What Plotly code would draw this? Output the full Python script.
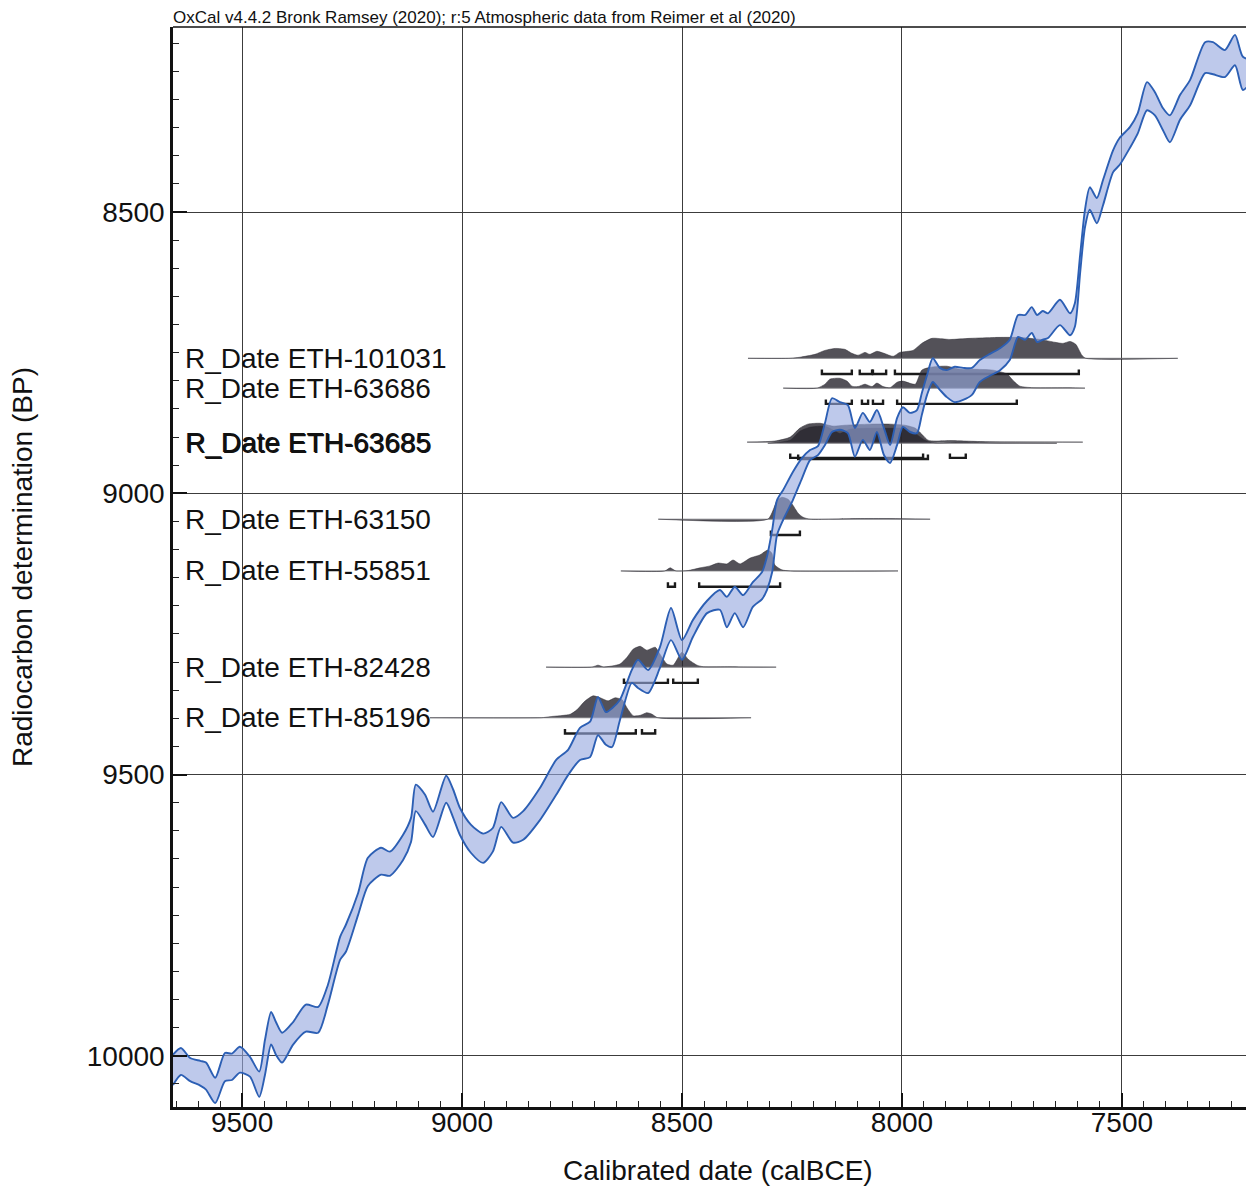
import plotly.graph_objects as go

# ---------------- calibration curve (IntCal20 band) ----------------
CURVE_CALBCE = [9657, 9639, 9618, 9595, 9582, 9561, 9539, 9523, 9505, 9482, 9461, 9448, 9434, 9423, 9409,
                9384, 9355, 9327, 9305, 9277, 9264, 9236, 9214, 9184, 9164, 9134, 9116, 9105, 9084, 9066,
                9036, 9020, 9005, 8980, 8952, 8930, 8911, 8884, 8861, 8823, 8786, 8759, 8732, 8709, 8691,
                8673, 8659, 8641, 8614, 8600, 8577, 8550, 8525, 8500, 8475, 8443, 8414, 8398, 8380, 8361,
                8339, 8318, 8307, 8295, 8284, 8270, 8248, 8227, 8209, 8191, 8175, 8159, 8141, 8123, 8107,
                8089, 8073, 8057, 8041, 8027, 8011, 7998, 7982, 7966, 7955, 7943, 7930, 7914, 7898, 7880,
                7861, 7841, 7823, 7800, 7777, 7755, 7736, 7720, 7705, 7693, 7680, 7668, 7641, 7618, 7607,
                7595, 7584, 7573, 7557, 7543, 7520, 7505, 7482, 7464, 7443, 7425, 7407, 7391, 7368, 7345,
                7311, 7293, 7266, 7243, 7225, 7200]
CURVE_BP_UPPER = [9998, 9986, 10004, 10009, 10012, 10039, 9995, 9996, 9984, 10002, 10028, 9972, 9922, 9940, 9959,
                  9940, 9909, 9913, 9874, 9788, 9767, 9710, 9648, 9630, 9637, 9607, 9577, 9518, 9536, 9566,
                  9502, 9527, 9559, 9589, 9605, 9595, 9549, 9577, 9565, 9524, 9474, 9456, 9417, 9406, 9362,
                  9389, 9382, 9367, 9314, 9296, 9314, 9273, 9204, 9261, 9225, 9191, 9172, 9184, 9166, 9181,
                  9158, 9140, 9113, 9065, 9012, 8994, 8962, 8937, 8923, 8916, 8875, 8831, 8838, 8843, 8884,
                  8857, 8873, 8852, 8884, 8914, 8866, 8847, 8857, 8852, 8822, 8790, 8760, 8777, 8781, 8775,
                  8777, 8777, 8763, 8752, 8742, 8727, 8683, 8683, 8669, 8683, 8676, 8680, 8656, 8680, 8662,
                  8576, 8496, 8456, 8475, 8443, 8390, 8368, 8349, 8324, 8269, 8287, 8315, 8328, 8292, 8265,
                  8198, 8198, 8212, 8185, 8224, 8230]
CURVE_BP_LOWER = [10052, 10034, 10045, 10053, 10060, 10084, 10045, 10043, 10030, 10037, 10073, 10034, 9980, 9998, 10012,
                  9980, 9957, 9959, 9909, 9829, 9815, 9749, 9698, 9678, 9680, 9652, 9620, 9565, 9589, 9611,
                  9550, 9577, 9607, 9639, 9657, 9637, 9593, 9621, 9616, 9581, 9536, 9501, 9474, 9469, 9430,
                  9447, 9451, 9403, 9337, 9346, 9355, 9310, 9261, 9296, 9255, 9213, 9207, 9238, 9213, 9238,
                  9202, 9188, 9172, 9140, 9074, 9047, 9012, 8973, 8941, 8932, 8914, 8891, 8887, 8893, 8935,
                  8905, 8923, 8891, 8932, 8946, 8914, 8882, 8891, 8893, 8861, 8825, 8802, 8816, 8829, 8838,
                  8834, 8825, 8802, 8791, 8781, 8763, 8722, 8727, 8715, 8731, 8727, 8724, 8701, 8719, 8704,
                  8608, 8527, 8496, 8520, 8488, 8429, 8416, 8386, 8360, 8319, 8328, 8354, 8376, 8336, 8310,
                  8253, 8255, 8260, 8239, 8283, 8262]

# ---------------- dates ----------------
DATE_LABELS = ["R_Date ETH-101031", "R_Date ETH-63686", "R_Date ETH-63685", "R_Date ETH-63685",
               "R_Date ETH-63150", "R_Date ETH-55851", "R_Date ETH-82428", "R_Date ETH-85196"]
DATE_BP = [8760, 8813, 8909, 8911, 9046, 9138, 9309, 9399]

# calibrated probability distributions (relative density, max = 1)
D101031_CAL = [8350, 8254, 8232, 8198, 8175, 8152, 8130, 8114, 8100, 8084, 8073, 8057, 8041, 8020, 8005,
               7975, 7955, 7932, 7891, 7845, 7789, 7732, 7686, 7652, 7634, 7618, 7605, 7591, 7582, 7373]
D101031_P = [0, 0, 0.05, 0.18, 0.36, 0.45, 0.41, 0.23, 0.14, 0.27, 0.18, 0.32, 0.23, 0.09, 0.27,
             0.36, 0.68, 0.91, 0.86, 0.91, 0.95, 0.95, 0.86, 0.73, 0.68, 0.77, 0.64, 0.14, 0, 0]
D63686_CAL = [8270, 8193, 8175, 8164, 8141, 8125, 8114, 8100, 8084, 8068, 8057, 8043, 8027, 8011, 7998,
              7970, 7955, 7936, 7898, 7868, 7839, 7793, 7761, 7748, 7732, 7702, 7618, 7584]
D63686_P = [0, 0, 0.18, 0.41, 0.45, 0.32, 0.09, 0.07, 0.18, 0.07, 0.23, 0.07, 0.02, 0.27, 0.32,
            0.18, 0.82, 0.95, 1.0, 0.86, 0.86, 0.82, 0.64, 0.36, 0.09, 0.02, 0.02, 0]
D63685A_CAL = [8352, 8289, 8254, 8232, 8214, 8186, 8157, 8130, 8073, 8027, 7993, 7970, 7955, 7941, 7925,
               7891, 7857, 7811, 7589]
D63685A_P = [0, 0.05, 0.23, 0.64, 0.82, 0.86, 0.73, 0.77, 0.82, 0.82, 0.77, 0.64, 0.36, 0.09, 0.05,
             0.07, 0.05, 0.02, 0]
D63685B_CAL = [8305, 8254, 8232, 8209, 8175, 8152, 8141, 8118, 8073, 8027, 7993, 7970, 7948, 7925, 7868,
               7777, 7648]
D63685B_P = [0, 0.14, 0.55, 0.73, 0.77, 0.55, 0.45, 0.64, 0.68, 0.68, 0.68, 0.45, 0.14, 0.02, 0.05,
             0.01, 0]
D63150_CAL = [8554, 8305, 8293, 8284, 8273, 8259, 8248, 8236, 8225, 8209, 8102, 8027, 7936]
D63150_P = [0, 0, 0.41, 0.86, 1.0, 0.91, 0.64, 0.27, 0.09, 0, 0.03, 0.03, 0]
D55851_CAL = [8639, 8539, 8527, 8514, 8486, 8459, 8436, 8418, 8398, 8384, 8368, 8345, 8323, 8305, 8296,
              8289, 8273, 8254, 8009]
D55851_P = [0, 0, 0.14, 0, 0.02, 0.14, 0.23, 0.36, 0.32, 0.5, 0.32, 0.59, 0.73, 0.95, 0.82,
            0.27, 0.05, 0, 0]
D82428_CAL = [8809, 8705, 8691, 8678, 8641, 8625, 8611, 8595, 8580, 8561, 8550, 8534, 8520, 8500, 8486,
              8466, 8452, 8391, 8361, 8286]
D82428_P = [0, 0, 0.09, 0.01, 0.14, 0.45, 0.82, 0.95, 0.77, 0.91, 0.59, 0.14, 0.09, 0.68, 0.36,
            0.09, 0.02, 0.02, 0.01, 0]
D85196_CAL = [9073, 8820, 8800, 8754, 8739, 8720, 8702, 8686, 8668, 8652, 8636, 8625, 8611, 8595, 8580,
              8568, 8555, 8343]
D85196_P = [0, 0, 0.05, 0.16, 0.36, 0.77, 1.0, 0.91, 0.77, 0.91, 0.82, 0.45, 0.09, 0.11, 0.23,
            0.16, 0, 0]

# 95.4% calibrated ranges (calBCE from, to)
R101031 = [(8182, 8114), (8096, 8068), (8066, 8036), (8016, 7598)]
R63686 = [(8173, 8114), (8091, 8077), (8066, 8043), (8011, 7739)]
R63685A = [(8254, 7952), (7891, 7855)]
R63685B = [(8236, 7941)]
R63150 = [(8298, 8232)]
R55851 = [(8532, 8516), (8461, 8277)]
R82428 = [(8632, 8532), (8520, 8464)]
R85196 = [(8766, 8605), (8591, 8561)]

DISTS = [(D101031_CAL, D101031_P, R101031), (D63686_CAL, D63686_P, R63686),
         (D63685A_CAL, D63685A_P, R63685A), (D63685B_CAL, D63685B_P, R63685B),
         (D63150_CAL, D63150_P, R63150), (D55851_CAL, D55851_P, R55851),
         (D82428_CAL, D82428_P, R82428), (D85196_CAL, D85196_P, R85196)]

# ---------------- styling constants ----------------
FONT = "Liberation Sans, Arial, Helvetica, sans-serif"
DIST_H = 39        # peak height of a distribution, BP units
BRACKET_OFF = 28   # bracket line below baseline, BP units
BRACKET_TICK = 8
DIST_FILL = "rgba(40,38,46,0.8)"
BAND_FILL = "rgba(150,168,222,0.62)"
CURVE_LINE = "#2c5fb4"

fig = go.Figure()

# distributions
for (cal, p, ranges), bp in zip(DISTS, DATE_BP):
    fig.add_trace(go.Scatter(x=[cal[0], cal[-1]], y=[bp, bp], mode="lines",
                             line=dict(color="rgba(120,120,125,0.85)", width=1),
                             hoverinfo="skip", showlegend=False))
    fig.add_trace(go.Scatter(x=cal, y=[bp - v * DIST_H for v in p], mode="lines",
                             line=dict(color=DIST_FILL, width=0.6, shape="spline", smoothing=0.6),
                             fill="tonexty", fillcolor=DIST_FILL,
                             hoverinfo="skip", showlegend=False))
    bx, byy = [], []
    y0 = bp + BRACKET_OFF
    for a, b in ranges:
        bx += [a, a, b, b, None]
        byy += [y0 - BRACKET_TICK, y0, y0, y0 - BRACKET_TICK, None]
    fig.add_trace(go.Scatter(x=bx, y=byy, mode="lines",
                             line=dict(color="#1a1a1a", width=2.4),
                             hoverinfo="skip", showlegend=False))

# calibration band
fig.add_trace(go.Scatter(x=CURVE_CALBCE + CURVE_CALBCE[::-1],
                         y=CURVE_BP_UPPER + CURVE_BP_LOWER[::-1],
                         mode="lines", fill="toself", fillcolor=BAND_FILL,
                         line=dict(width=0, shape="spline", smoothing=0.7),
                         hoverinfo="skip", showlegend=False))
for arr in (CURVE_BP_UPPER, CURVE_BP_LOWER):
    fig.add_trace(go.Scatter(x=CURVE_CALBCE, y=arr, mode="lines",
                             line=dict(color=CURVE_LINE, width=1.9, shape="spline", smoothing=0.7),
                             hoverinfo="skip", showlegend=False))

# labels
annotations = []
for i, (lab, bp) in enumerate(zip(DATE_LABELS, DATE_BP)):
    dx = 1 if (i > 0 and DATE_LABELS[i - 1] == lab) else 0
    annotations.append(dict(text=lab, x=0.009 + dx / 1073, xref="paper", y=bp, yref="y",
                            xanchor="left", yanchor="middle", showarrow=False,
                            font=dict(family=FONT, size=28, color="#111")))

annotations.append(dict(text="OxCal v4.4.2 Bronk Ramsey (2020); r:5 Atmospheric data from Reimer et al (2020)",
                        x=-0.002, xref="paper", y=1.0085, yref="paper", xanchor="left", yanchor="middle",
                        showarrow=False, font=dict(family=FONT, size=17, color="#111")))
annotations.append(dict(text="Calibrated date (calBCE)", x=0.5076, xref="paper", y=-0.0585, yref="paper",
                        xanchor="center", yanchor="middle", showarrow=False,
                        font=dict(family=FONT, size=28, color="#111")))
annotations.append(dict(text="Radiocarbon determination (BP)", x=-0.1407, xref="paper", y=0.5, yref="paper",
                        xanchor="center", yanchor="middle", showarrow=False, textangle=-90,
                        font=dict(family=FONT, size=28, color="#111")))

axis_common = dict(
    showgrid=True, gridcolor="#3c3c3c", gridwidth=1.2, zeroline=False,
    ticks="inside", ticklen=14, tickwidth=2, tickcolor="#111",
    showline=True, linecolor="#111", linewidth=2.5,
    tick0=0, dtick=500, tickformat="d",
    tickfont=dict(family=FONT, size=28, color="#111"),
    minor=dict(ticks="inside", dtick=50, tick0=0, ticklen=6, tickwidth=1.4,
               tickcolor="#222", showgrid=False),
)

# page body has an 8px margin: the figure is sized/offset so the plot lands where the reference has it
fig.update_layout(
    width=1238, height=1179,
    margin=dict(l=165, r=0, t=19, b=80, pad=0),
    paper_bgcolor="white", plot_bgcolor="white",
    showlegend=False,
    xaxis=dict(range=[9657, 7218], ticklabelstandoff=-11, **axis_common),
    yaxis=dict(range=[10091, 8171], ticklabelstandoff=0, **axis_common),
    annotations=annotations,
    shapes=[dict(type="line", xref="paper", yref="paper", x0=0, x1=1, y0=1, y1=1,
                 line=dict(color="#111", width=1.6))],
)

fig.write_html("out.html")
